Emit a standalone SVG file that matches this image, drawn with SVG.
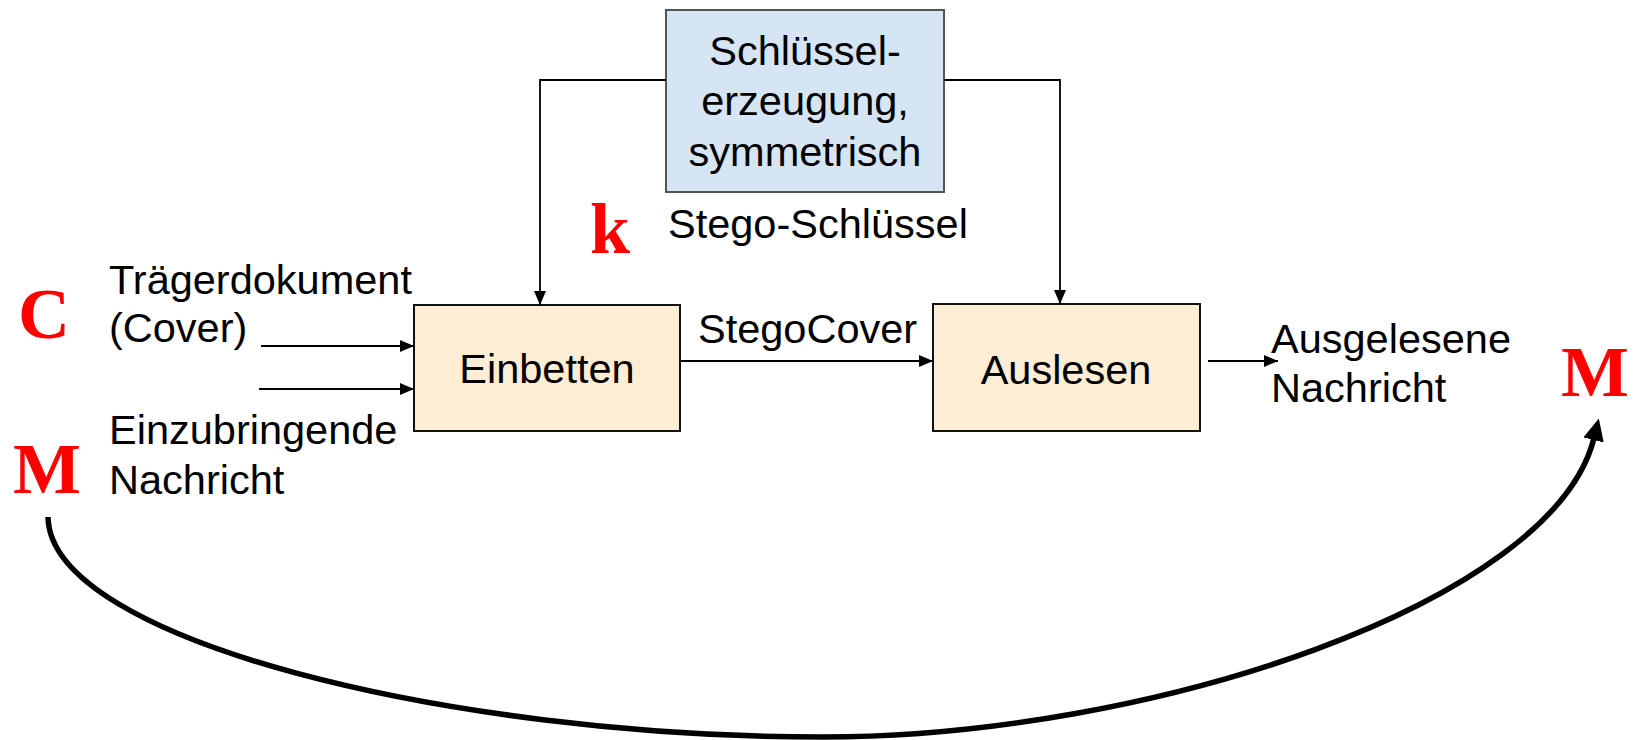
<svg xmlns="http://www.w3.org/2000/svg" width="1634" height="740" viewBox="0 0 1634 740">
  <style>
    .lbl { font-family: "Liberation Sans", Arial, sans-serif; font-size: 41.5px; fill: #000; }
    .sym { font-family: "Liberation Serif", "Times New Roman", serif; font-weight: bold; font-size: 72px; fill: #FF0000; }
    .proc { fill: #FDEDD5; stroke: #111; stroke-width: 2; }
    .keygen { fill: #D5E5F3; stroke: #555; stroke-width: 2; }
    .wire { fill: none; stroke: #000; stroke-width: 1.8; }
  </style>
  <defs>
    <marker id="head" markerUnits="userSpaceOnUse" markerWidth="14" markerHeight="14" viewBox="0 0 14 14" refX="14" refY="7" orient="auto">
      <path d="M0,1 L14,7 L0,13 Z" fill="#000"/>
    </marker>
    <marker id="bighead" markerUnits="userSpaceOnUse" markerWidth="22" markerHeight="22" viewBox="0 0 22 22" refX="2" refY="11" orient="auto">
      <path d="M0,0.5 L22,11 L0,21.5 Z" fill="#000"/>
    </marker>
  </defs>

  <!-- key generation -->
  <g id="keygen">
    <rect class="keygen" x="666" y="10" width="278" height="182"/>
    <text class="lbl" x="805" y="65" text-anchor="middle">Schlüssel-</text>
    <text class="lbl" x="805" y="115" text-anchor="middle">erzeugung,</text>
    <text class="lbl" x="805" y="166" text-anchor="middle">symmetrisch</text>
  </g>

  <!-- embedding -->
  <g id="einbetten">
    <rect class="proc" x="414" y="305" width="266" height="126"/>
    <text class="lbl" x="547" y="383" text-anchor="middle">Einbetten</text>
  </g>

  <!-- extraction -->
  <g id="auslesen">
    <rect class="proc" x="933" y="304" width="267" height="127"/>
    <text class="lbl" x="1066" y="384" text-anchor="middle">Auslesen</text>
  </g>

  <!-- labels -->
  <g id="stego-key">
    <text class="sym" x="590" y="253">k</text>
    <text class="lbl" x="668" y="238">Stego-Schlüssel</text>
  </g>
  <g id="cover">
    <text class="sym" x="18" y="338">C</text>
    <text class="lbl" x="109" y="294">Trägerdokument</text>
    <text class="lbl" x="109" y="342">(Cover)</text>
  </g>
  <g id="message-in">
    <text class="sym" x="13" y="493">M</text>
    <text class="lbl" x="109" y="444">Einzubringende</text>
    <text class="lbl" x="109" y="494">Nachricht</text>
  </g>
  <g id="stegocover-label">
    <text class="lbl" x="698" y="343">StegoCover</text>
  </g>
  <g id="message-out">
    <text class="lbl" x="1271" y="353">Ausgelesene</text>
    <text class="lbl" x="1271" y="402">Nachricht</text>
    <text class="sym" x="1561" y="396">M</text>
  </g>

  <!-- connectors -->
  <g id="connectors">
    <path class="wire" d="M666,80 H540 V305" marker-end="url(#head)"/>
    <path class="wire" d="M944,80 H1060 V304" marker-end="url(#head)"/>
    <path class="wire" d="M261,346 H414" marker-end="url(#head)"/>
    <path class="wire" d="M259,389 H414" marker-end="url(#head)"/>
    <path class="wire" d="M681,361 H933" marker-end="url(#head)"/>
    <path class="wire" d="M1208,361 H1278" marker-end="url(#head)"/>
    <path d="M48,517 C50,640 450,737 823,737 C1150,737 1553,603 1594,438" fill="none" stroke="#000" stroke-width="5.5" marker-end="url(#bighead)"/>
  </g>
</svg>
